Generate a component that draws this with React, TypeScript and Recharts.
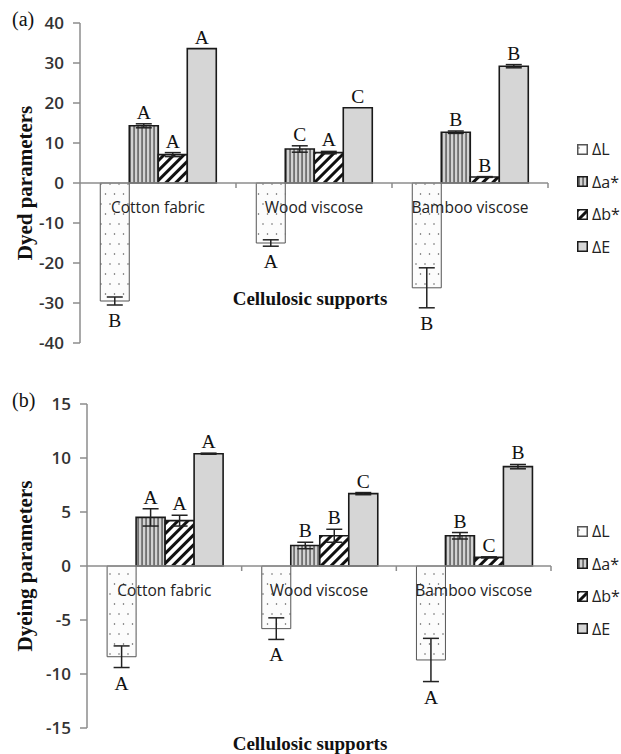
import { Bar, BarChart, ErrorBar, LabelList, ReferenceLine, XAxis, YAxis } from "recharts";

const categories = ["Cotton fabric", "Wood viscose", "Bamboo viscose"];
const seriesNames = ["ΔL", "Δa*", "Δb*", "ΔE"];

// (a) dyed parameters
const dyedL = [-29.5, -15.0, -26.2];
const dyedA = [14.3, 8.5, 12.7];
const dyedB = [7.1, 7.6, 1.5];
const dyedE = [33.6, 18.8, 29.2];
const dyedErrL = [1.0, 0.8, 5.0];
const dyedErrA = [0.5, 0.8, 0.3];
const dyedErrB = [0.5, 0.3, 0.1];
const dyedErrE = [0, 0, 0.4];
const dyedLetL = ["B", "A", "B"];
const dyedLetA = ["A", "C", "B"];
const dyedLetB = ["A", "A", "B"];
const dyedLetE = ["A", "C", "B"];
const dyedTicks = [-40, -30, -20, -10, 0, 10, 20, 30, 40];

// (b) dyeing parameters
const dyeingL = [-8.4, -5.8, -8.7];
const dyeingA = [4.5, 1.9, 2.8];
const dyeingB = [4.2, 2.8, 0.8];
const dyeingE = [10.4, 6.7, 9.2];
const dyeingErrL = [1.0, 1.0, 2.0];
const dyeingErrA = [0.8, 0.3, 0.3];
const dyeingErrB = [0.5, 0.6, 0.05];
const dyeingErrE = [0.05, 0.1, 0.2];
const dyeingLetL = ["A", "A", "A"];
const dyeingLetA = ["A", "B", "B"];
const dyeingLetB = ["A", "B", "C"];
const dyeingLetE = ["A", "C", "B"];
const dyeingTicks = [-15, -10, -5, 0, 5, 10, 15];

const makeRows = (L: number[], A: number[], B: number[], E: number[], eL: number[], eA: number[], eB: number[], eE: number[], lL: string[], lA: string[], lB: string[], lE: string[]) =>
  categories.map((name, i) => ({
    name,
    L: L[i], A: A[i], B: B[i], E: E[i],
    eL: eL[i], eA: eA[i], eB: eB[i], eE: eE[i],
    lL: lL[i], lA: lA[i], lB: lB[i], lE: lE[i],
  }));

const dyedRows = makeRows(dyedL, dyedA, dyedB, dyedE, dyedErrL, dyedErrA, dyedErrB, dyedErrE, dyedLetL, dyedLetA, dyedLetB, dyedLetE);
const dyeingRows = makeRows(dyeingL, dyeingA, dyeingB, dyeingE, dyeingErrL, dyeingErrA, dyeingErrB, dyeingErrE, dyeingLetL, dyeingLetA, dyeingLetB, dyeingLetE);

const AXIS = "#8c8c8c";
const SANS = "'Open Sans', 'DejaVu Sans', sans-serif";
const SERIF = "'Liberation Serif', 'Times New Roman', serif";

const patterns = (id: string) => (
  <defs>
    <pattern id={`${id}-dots`} width="9" height="20" patternUnits="userSpaceOnUse">
      <rect width="9" height="20" fill="#fcfcfc" />
      <circle cx="2" cy="4" r="0.75" fill="#555" />
      <circle cx="6.5" cy="14" r="0.75" fill="#555" />
    </pattern>
    <pattern id={`${id}-vert`} width="4" height="4" patternUnits="userSpaceOnUse">
      <rect width="4" height="4" fill="#d2d2d2" />
      <rect x="1.5" width="1.1" height="4" fill="#333" />
    </pattern>
    <pattern id={`${id}-diag`} width="7" height="7" patternUnits="userSpaceOnUse" patternTransform="rotate(45)">
      <rect width="7" height="7" fill="#fff" />
      <rect width="3" height="7" fill="#111" />
    </pattern>
  </defs>
);

// letter above / below each bar, clear of its error bar
const letterLabel = (props: any) => {
  const vb = props.viewBox ?? props;
  const [letter, raw, err] = String(props.value).split("|");
  const v = Number(raw);
  const e = Number(err);
  const x = Number(vb.x);
  const y = Number(vb.y);
  const h = Number(vb.height);
  const w = Number(vb.width);
  const perUnit = Math.abs(h) / Math.abs(v || 1);
  const cx = x + w / 2;
  const ty = v >= 0 ? Math.min(y, y + h) - e * perUnit - 5 : Math.max(y, y + h) + e * perUnit + 22;
  return (
    <text x={cx} y={ty} textAnchor="middle" fontFamily={SERIF} fontSize={19.5} fill="#111">
      {letter}
    </text>
  );
};

const zeroAxis = (props: any) => {
  const { x, y, width } = props.viewBox;
  const band = width / categories.length;
  return (
    <g>
      {[1, 2, 3].map((i) => (
        <line key={i} x1={x + band * i} x2={x + band * i} y1={y} y2={y + 5} stroke={AXIS} strokeWidth={1.5} />
      ))}
      {categories.map((c, i) => (
        <text key={c} x={x + band * (i + 0.5)} y={y + 30} textAnchor="middle" fontFamily={SANS} fontSize={15.5} fill="#222">
          {c}
        </text>
      ))}
    </g>
  );
};

const keys = ["L", "A", "B", "E"];

function Panel(props: {
  id: string;
  rows: any[];
  ticks: number[];
  top: number;
  height: number;
  margin: { top: number; right: number; bottom: number; left: number };
  yWidth: number;
  yTitle: string;
  tag: string;
  titleTop: number;
  legendTop: number;
}) {
  const { id, rows, ticks, top, height, margin, yWidth, yTitle, tag, titleTop, legendTop } = props;
  const fills = [`url(#${id}-dots)`, `url(#${id}-vert)`, `url(#${id}-diag)`, "#d6d6d6"];
  const plotMid = top + margin.top + (height - margin.top - margin.bottom) / 2;
  return (
    <>
      <div style={{ position: "absolute", left: 0, top }}>
        <BarChart width={621} height={height} data={rows} margin={margin} barCategoryGap="13%" barGap={0}>
          {patterns(id)}
          <XAxis dataKey="name" hide />
          <YAxis
            domain={[ticks[0], ticks[ticks.length - 1]]}
            ticks={ticks}
            interval={0}
            width={yWidth}
            axisLine={{ stroke: AXIS, strokeWidth: 1.5 }}
            tickLine={{ stroke: AXIS, strokeWidth: 1.5 }}
            tickSize={7}
            tickMargin={9}
            tick={{ fontSize: 17, fill: "#333", fontFamily: SANS, fontWeight: 600 }}
          />
          {keys.map((k, i) => (
            <Bar
              key={k}
              dataKey={k}
              name={seriesNames[i]}
              fill={fills[i]}
              stroke={i === 0 ? "#555" : "#1a1a1a"}
              strokeWidth={i === 0 ? 1 : 1.6}
              isAnimationActive={false}
            >
              <ErrorBar dataKey={`e${k}`} width={8} strokeWidth={1.5} stroke="#222" direction="y" isAnimationActive={false} />
              <LabelList dataKey={(d: any) => `${d[`l${k}`]}|${d[k]}|${d[`e${k}`]}`} content={letterLabel} />
            </Bar>
          ))}
          <ReferenceLine y={0} stroke={AXIS} strokeWidth={1.5} label={zeroAxis} />
        </BarChart>
      </div>
      <div style={{ position: "absolute", left: 12, top: top + margin.top - 15, fontFamily: SERIF, fontSize: 20, color: "#111" }}>
        {tag}
      </div>
      <div
        style={{
          position: "absolute",
          left: 25,
          top: plotMid,
          transform: "translate(-50%, -50%) rotate(-90deg)",
          whiteSpace: "nowrap",
          fontFamily: SERIF,
          fontWeight: 700,
          fontSize: 21,
          color: "#111",
        }}
      >
        {yTitle}
      </div>
      <div
        style={{
          position: "absolute",
          left: 310,
          top: titleTop,
          transform: "translateX(-50%)",
          whiteSpace: "nowrap",
          fontFamily: SERIF,
          fontWeight: 700,
          fontSize: 19,
          color: "#111",
        }}
      >
        Cellulosic supports
      </div>
      <div style={{ position: "absolute", left: 577, top: legendTop }}>
        {seriesNames.map((n, i) => (
          <div key={n} style={{ display: "flex", alignItems: "center", height: 32.5 }}>
            <svg width={11} height={11} style={{ marginRight: 4 }}>
              <rect x={0.75} y={0.75} width={9.5} height={9.5} fill={fills[i]} stroke={i === 0 ? "#555" : "#1a1a1a"} strokeWidth={1.5} />
            </svg>
            <span style={{ fontFamily: SANS, fontSize: 16, color: "#222" }}>{n}</span>
          </div>
        ))}
      </div>
    </>
  );
}

export default function App() {
  return (
    <div style={{ position: "absolute", left: 0, top: 0, width: 621, height: 754, background: "#fff", overflow: "hidden" }}>
      <Panel
        id="pa"
        rows={dyedRows}
        ticks={dyedTicks}
        top={0}
        height={370}
        margin={{ top: 23, right: 73, bottom: 27, left: 0 }}
        yWidth={80}
        yTitle="Dyed parameters"
        tag="(a)"
        titleTop={288}
        legendTop={133}
      />
      <Panel
        id="pb"
        rows={dyeingRows}
        ticks={dyeingTicks}
        top={370}
        height={384}
        margin={{ top: 34, right: 70, bottom: 26, left: 0 }}
        yWidth={87}
        yTitle="Dyeing parameters"
        tag="(b)"
        titleTop={733}
        legendTop={515}
      />
    </div>
  );
}
